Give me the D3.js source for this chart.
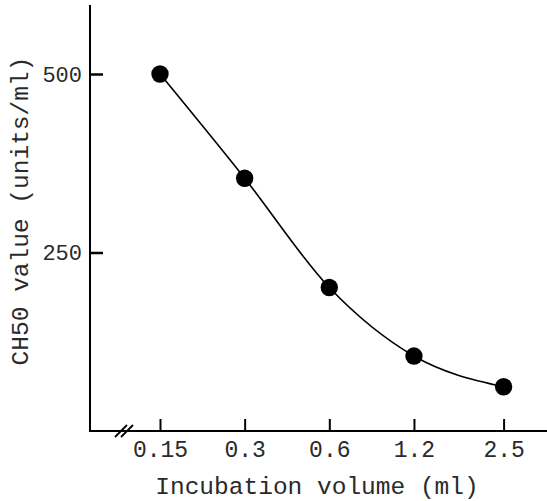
<!DOCTYPE html>
<html><head><meta charset="utf-8">
<script src="https://cdn.jsdelivr.net/npm/d3@7"></script>
<style>
html,body{margin:0;padding:0;background:#fff;}
text{font-family:"Liberation Mono","DejaVu Sans Mono",monospace;fill:#2a2a2a;}
</style></head>
<body>
<svg id="c" width="547" height="501"></svg>
<script>
const volumes = [0.15, 0.3, 0.6, 1.2, 2.5];
const ch50 = [500, 354, 201, 105, 62];
const xTickLabels = ["0.15", "0.3", "0.6", "1.2", "2.5"];
const yTicks = [250, 500];
const xTitle = "Incubation volume (ml)";
const yTitle = "CH50 value (units/ml)";

const svg = d3.select("#c");
const axisX0 = 89, axisX1 = 547, axisY0 = 431, axisTop = 5;

const x = d3.scaleLog().domain([0.15, 2.5]).range([160, 503.6]);
const y = d3.scaleLinear().domain([0, 500]).range([431, 74]);

// axes lines
svg.append("line").attr("x1", axisX0).attr("x2", axisX1).attr("y1", axisY0).attr("y2", axisY0)
  .attr("stroke", "#000").attr("stroke-width", 2);
svg.append("line").attr("x1", 90).attr("x2", 90).attr("y1", axisTop).attr("y2", axisY0 + 1)
  .attr("stroke", "#000").attr("stroke-width", 2);

// break marks
[0, 6].forEach(o => {
  svg.append("line").attr("x1", 115 + o).attr("y1", 437).attr("x2", 127 + o).attr("y2", 425)
    .attr("stroke", "#000").attr("stroke-width", 1.8);
});

// x ticks
const xAxis = d3.axisBottom(x).tickValues(volumes).tickFormat((d, i) => xTickLabels[i])
  .tickSizeInner(-12).tickSizeOuter(0).tickPadding(10);
const gx = svg.append("g").attr("transform", `translate(0,${axisY0})`).call(xAxis);
gx.select(".domain").remove();
gx.selectAll(".tick line").attr("stroke", "#000").attr("stroke-width", 2);
gx.selectAll(".tick text").attr("font-size", 23).attr("fill", "#2a2a2a");

// y ticks
const yAxis = d3.axisLeft(y).tickValues(yTicks).tickSizeInner(-13).tickSizeOuter(0).tickPadding(8);
const gy = svg.append("g").attr("transform", `translate(90,0)`).call(yAxis);
gy.select(".domain").remove();
gy.selectAll(".tick line").attr("stroke", "#000").attr("stroke-width", 2.5);
gy.selectAll(".tick text").attr("font-size", 22).attr("fill", "#2a2a2a");

// curve
const data = volumes.map((v, i) => ({v, c: ch50[i]}));
const line = d3.line().x(d => x(d.v)).y(d => y(d.c)).curve(d3.curveMonotoneX);
svg.append("path").datum(data).attr("d", line).attr("fill", "none")
  .attr("stroke", "#000").attr("stroke-width", 1.6);
svg.selectAll("circle.pt").data(data).enter().append("circle").attr("class", "pt")
  .attr("cx", d => x(d.v)).attr("cy", d => y(d.c)).attr("r", 8.7).attr("fill", "#000");

// titles
svg.append("text").attr("x", 317).attr("y", 494).attr("text-anchor", "middle")
  .attr("font-size", 24.5).text(xTitle);
svg.append("text").attr("transform", "translate(28,211) rotate(-90)").attr("text-anchor", "middle")
  .attr("font-size", 24.5).text(yTitle);
</script>
</body></html>
